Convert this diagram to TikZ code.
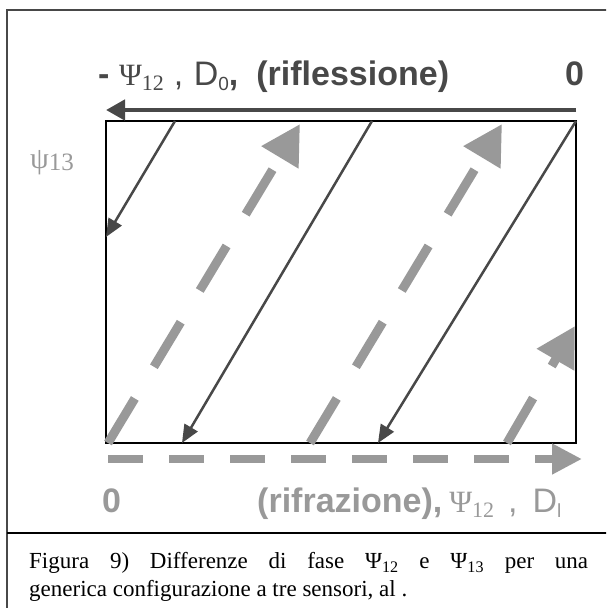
\documentclass[tikz,border=0pt]{standalone}
\usepackage{fontspec}
\setmainfont{Liberation Serif}
\newfontfamily\arialfont{Liberation Sans}
\usetikzlibrary{arrows.meta}

\definecolor{darkline}{RGB}{72,72,72}
\definecolor{lightline}{RGB}{153,153,153}

\newcommand{\bigsans}{\arialfont\bfseries\fontsize{34}{40}\selectfont}
\newcommand{\regsans}{\arialfont\fontsize{34}{40}\selectfont}
\newcommand{\bigpsi}{{\fontsize{31}{36}\selectfont Ψ}}
\newcommand{\lowsub}[1]{\raisebox{-5pt}{#1}}

\begin{document}
\begin{tikzpicture}[x=1pt, y=-1pt,
    refl/.style={darkline, line width=2.5pt, -{Triangle[length=18pt, width=15pt]}},
    refr/.style={lightline, line width=9pt, dash pattern=on 52pt off 37pt,
        -{Triangle[length=39pt, width=41pt]}},
    lbl/.style={inner sep=0pt, anchor=base west}]
    \useasboundingbox (0,0) rectangle (606,608);
    \clip (0,0) rectangle (606,608);

    % frame and caption rule
    \draw[darkline, line width=1.5pt] (640,10) -- (7,10) -- (7,640);
    \draw[line width=2pt] (7,533) -- (640,533);

    \draw[line width=1.3pt] (106,121) rectangle (576,443);

    % axes
    \draw[darkline, line width=4.5pt, -{Triangle[length=19pt, width=20pt]}] (576,110) -- (106,110);
    \draw[lightline, line width=8pt, dash pattern=on 35pt off 26pt,
        -{Triangle[length=30pt, width=29pt]}] (108,459) -- (582,459);

    % reflected phase lines
    \draw[refl] (175,121) -- (106,237);
    \draw[refl] (372,121) -- (182,443);
    \draw[refl] (576,121) -- (378,443);

    % refracted phase lines
    \foreach \xa/\xb/\yb in {108/300/124, 310/502/124, 507/575/326} {
        \draw[refr] (\xa,443) -- (\xb,\yb);
    }

    \node[lbl, text=darkline] (reflabel) at (98,85)
        {{\bigsans -}\hspace{9.5pt}\bigpsi\lowsub{\fontsize{22}{26}\selectfont 12}\hspace{10pt}{\regsans ,}\hspace{10.5pt}{\regsans D}\lowsub{\arialfont\fontsize{19}{22}\selectfont 0}{\bigsans ,}\hspace{18pt}{\bigsans (riflessione)}};
    \node[lbl, text=darkline] (topzero) at (565,85) {\bigsans 0};

    \node[lbl, text=lightline] (psilabel) at (30,168)
        {{\fontsize{30}{34}\selectfont ψ}\raisebox{-2pt}{\fontsize{25}{28}\selectfont 13}};

    \node[lbl, text=lightline] (botzero) at (102,512) {\bigsans 0};
    \node[lbl, text=lightline] (refrlabel) at (257,512)
        {{\bigsans (rifrazione),}\hspace{7pt}\bigpsi\lowsub{\fontsize{22}{26}\selectfont 12}\hspace{14pt}{\regsans ,}\hspace{15pt}{\regsans D}\lowsub{\arialfont\fontsize{19}{22}\selectfont l}};

    \node[inner sep=0pt, anchor=north west, text width=559pt, align=justify,
        font=\fontsize{23}{28}\selectfont] (caption) at (29,552)
        {Figura 9) Differenze di fase Ψ\textsubscript{12} e Ψ\textsubscript{13} per una\linebreak generica configurazione a tre sensori, al .};
\end{tikzpicture}
\end{document}
